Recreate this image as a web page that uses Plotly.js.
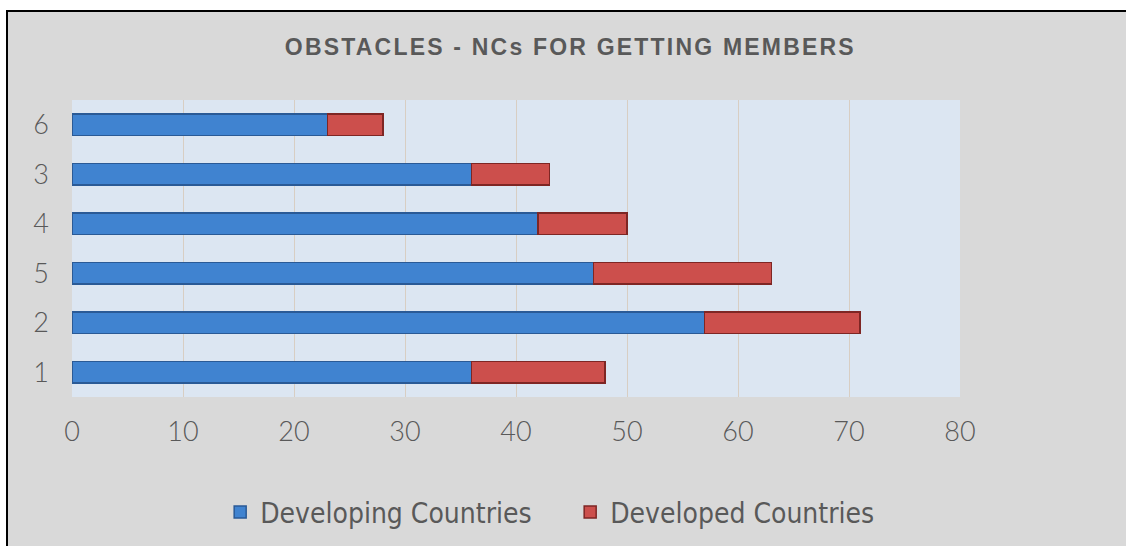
<!DOCTYPE html>
<html>
<head>
<meta charset="utf-8">
<script src="https://cdn.plot.ly/plotly-3.0.1.min.js"></script>
<style>
  html, body { margin: 0; padding: 0; background: #ffffff; width: 1126px; height: 546px; overflow: hidden; }
  #frame { position: absolute; left: 6px; top: 10px; width: 1120px; height: 536px;
           border-left: 2px solid #000; border-top: 2px solid #000; background: #d9d9d9; }
  #chart { width: 1118px; height: 534px; }
  #chart .gtitle { letter-spacing: 2.2px; }
</style>
</head>
<body>
<div id="frame"><div id="chart"></div></div>
<script>
// Categories listed bottom to top
const categories = ['1', '2', '5', '4', '3', '6'];
const developing = [36, 57, 47, 42, 36, 23];
const developed  = [12, 14, 16, 8, 7, 5];
const xTicks = [0, 10, 20, 30, 40, 50, 60, 70, 80];
const seriesNames = ['Developing Countries', 'Developed Countries'];
const titleText = 'OBSTACLES - NCs FOR GETTING MEMBERS';

const tickFont = { family: 'Lato, DejaVu Sans, sans-serif', size: 27, color: '#595959', weight: 300 };

const traces = [
  {
    type: 'bar', orientation: 'h', name: seriesNames[0],
    y: categories, x: developing,
    marker: { color: '#4083d0', line: { color: '#2a5a96', width: 1.5 } },
    hoverinfo: 'x+y'
  },
  {
    type: 'bar', orientation: 'h', name: seriesNames[1],
    y: categories, x: developed,
    marker: { color: '#cc4f4c', line: { color: '#7e2624', width: 1.5 } },
    hoverinfo: 'x+y'
  }
];

const layout = {
  width: 1118, height: 534,
  margin: { l: 64, r: 166, t: 88, b: 149, autoexpand: false },
  paper_bgcolor: '#d9d9d9',
  plot_bgcolor: '#dce6f2',
  barmode: 'stack',
  bargap: 0.56,
  showlegend: true,
  title: {
    text: '<b>' + titleText + '</b>',
    font: { family: 'Liberation Sans, Arial, sans-serif', size: 23, color: '#595959' },
    x: 0.503, xanchor: 'center', xref: 'container',
    y: 1, yref: 'container', yanchor: 'top', pad: { t: 27 }
  },
  xaxis: {
    range: [0, 80], tickvals: xTicks, ticktext: xTicks.map(String),
    showgrid: true, gridcolor: '#d8cec3', gridwidth: 1,
    zeroline: false, showline: false, ticks: '',
    ticklabelstandoff: 16, automargin: false,
    tickfont: tickFont, fixedrange: true
  },
  yaxis: {
    type: 'category', categoryorder: 'array', categoryarray: categories,
    showgrid: false, zeroline: false, showline: false, ticks: '',
    ticklabelstandoff: 22, automargin: false,
    tickfont: tickFont, fixedrange: true
  },
  legend: {
    orientation: 'h', x: 0.561, xanchor: 'center', y: -0.388, yanchor: 'middle',
    font: { family: 'Liberation Sans Narrow, DejaVu Sans Condensed, Arial Narrow, sans-serif', size: 28, color: '#595959', weight: 300 },
    itemwidth: 30, entrywidth: 305, traceorder: 'normal', bgcolor: 'rgba(0,0,0,0)', tracegroupgap: 0
  }
};

Plotly.newPlot('chart', traces, layout, { displayModeBar: false, staticPlot: true });
</script>
</body>
</html>
